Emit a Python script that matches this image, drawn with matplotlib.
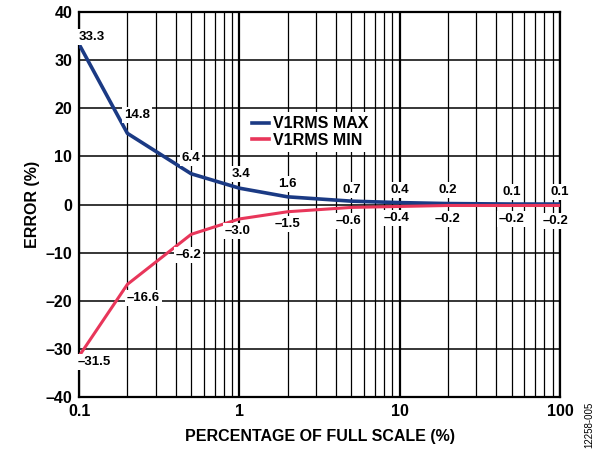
import matplotlib.pyplot as plt
import numpy as np

plt.rcParams['font.family'] = ['Liberation Sans', 'DejaVu Sans']
plt.rcParams['font.weight'] = 'bold'

scale_pct = [0.1, 0.2, 0.5, 1, 2, 5, 10, 20, 50, 100]
err_max = [33.3, 14.8, 6.4, 3.4, 1.6, 0.7, 0.4, 0.2, 0.1, 0.1]
err_min = [-31.5, -16.6, -6.2, -3.0, -1.5, -0.6, -0.4, -0.2, -0.2, -0.2]
y_ticks = [-40, -30, -20, -10, 0, 10, 20, 30, 40]

# label offsets in points (dx, dy)
max_offsets = [(9, 5), (7, 13.5), (0, 11.5), (1, 10), (0, 9.5), (0, 8), (0, 9), (0, 9.5), (0, 8.5), (0, 8.5)]
min_offsets = [(11, -4), (11.5, -10), (-2, -15), (-1, -9), (0, -9), (-2, -9.5), (-2, -8.5), (0, -9.5), (0, -9.5), (-3, -11)]

navy = '#1b3a84'
pink = '#e8365a'


def fmt(v):
    s = f"{abs(v):.1f}"
    return ('\u2013' + s) if v < 0 else s


fig = plt.figure(figsize=(5.95, 4.5), dpi=100)
ax = fig.add_axes([0.133, 0.118, 0.808, 0.855])

ax.set_xscale('log')
ax.set_xlim(0.1, 100)
ax.set_ylim(-40, 40)

ax.grid(True, which='major', axis='x', color='black', lw=1.6)
ax.grid(True, which='minor', axis='x', color='black', lw=0.9)
ax.grid(True, which='major', axis='y', color='black', lw=1.1)
ax.set_axisbelow(True)

ax.plot(scale_pct, err_max, color=navy, lw=2.6, label='V1RMS MAX', zorder=3)
ax.plot(scale_pct, err_min, color=pink, lw=2.2, label='V1RMS MIN', zorder=3)

box = dict(boxstyle='square,pad=0.15', fc='white', ec='none')
for x, v, (dx, dy) in zip(scale_pct, err_max, max_offsets):
    ax.annotate(fmt(v), (x, v), xytext=(dx, dy), textcoords='offset points',
                ha='center', va='center', fontsize=9.5, fontweight='bold',
                bbox=box, zorder=4, annotation_clip=False)
for x, v, (dx, dy) in zip(scale_pct, err_min, min_offsets):
    ax.annotate(fmt(v), (x, v), xytext=(dx, dy), textcoords='offset points',
                ha='center', va='center', fontsize=9.5, fontweight='bold',
                bbox=box, zorder=4, annotation_clip=False)

ax.set_yticks(y_ticks)
ax.set_yticklabels([fmt(t).replace('.0', '') for t in y_ticks])
ax.set_xticks([0.1, 1, 10, 100])
ax.set_xticklabels(['0.1', '1', '10', '100'])
ax.tick_params(which='both', length=0, labelsize=11.5, pad=5)
for lbl in ax.get_xticklabels() + ax.get_yticklabels():
    lbl.set_fontweight('bold')

for sp in ax.spines.values():
    sp.set_linewidth(1.6)

ax.set_xlabel('PERCENTAGE OF FULL SCALE (%)', fontsize=11.5, fontweight='bold', labelpad=7)
ax.set_ylabel('ERROR (%)', fontsize=11.5, fontweight='bold', labelpad=4)

leg = ax.legend(loc='center', bbox_to_anchor=(0.48, 0.688), fontsize=11.5,
                frameon=True, fancybox=False, handlelength=1.1, handletextpad=0.2,
                borderpad=0.25, labelspacing=0.1, borderaxespad=0)
leg.get_frame().set_edgecolor('none')
leg.get_frame().set_alpha(1)
for t in leg.get_texts():
    t.set_fontweight('bold')
for h in leg.get_lines():
    h.set_linewidth(2.6)

fig.text(0.99, 0.005, '12258-005', rotation=90, fontsize=7, fontweight='normal',
         ha='center', va='bottom')

fig.savefig('out.png', dpi=100)
